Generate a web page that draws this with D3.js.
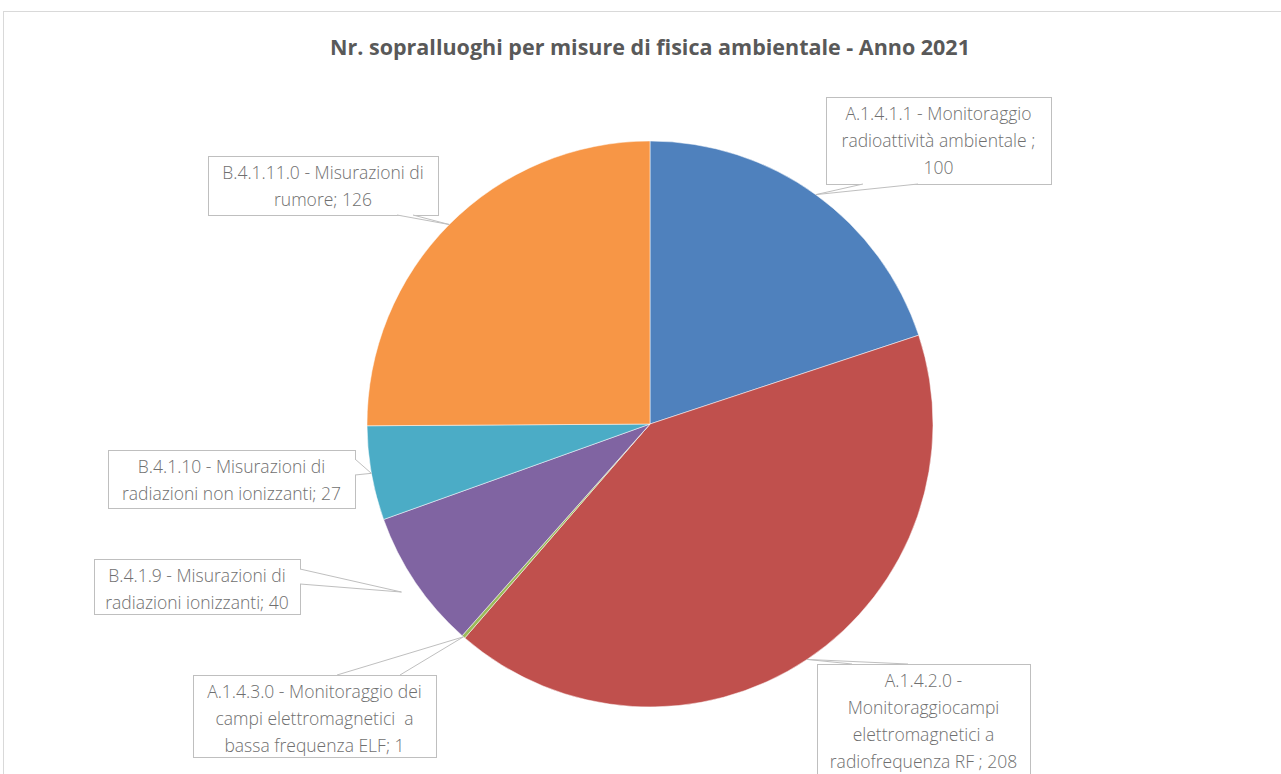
<!DOCTYPE html>
<html lang="it">
<head>
  <meta charset="UTF-8">
  <title>Nr. sopralluoghi per misure di fisica ambientale - Anno 2021</title>
  <script src="https://d3js.org/d3.v7.min.js"></script>
</head>
<style>
  body {
    margin: 0;
    background: #fff;
  }
  svg {
    display: block;
  }
  .title {
    font-family: "Open Sans", sans-serif;
    font-weight: bold;
    font-size: 21.5px;
    fill: #595959;
  }
  .lbl text {
    font-family: "Open Sans", sans-serif;
    font-weight: 300;
    font-size: 17.5px;
    fill: #6f6f6f;
    white-space: pre;
  }
</style>
<body>
<div id="chart"></div>
<script>
  // data
  var title = 'Nr. sopralluoghi per misure di fisica ambientale - Anno 2021';
  var categories = [
    'A.1.4.1.1 - Monitoraggio\nradioattività ambientale ;\n',
    'A.1.4.2.0 -\nMonitoraggiocampi\nelettromagnetici a\nradiofrequenza RF ; ',
    'A.1.4.3.0 - Monitoraggio dei\ncampi elettromagnetici  a\nbassa frequenza ELF; ',
    'B.4.1.9 - Misurazioni di\nradiazioni ionizzanti; ',
    'B.4.1.10 - Misurazioni di\nradiazioni non ionizzanti; ',
    'B.4.1.11.0 - Misurazioni di\nrumore; '
  ];
  var values = [100, 208, 1, 40, 27, 126];
  var colors = ['#4F81BD', '#C0504D', '#9BBB59', '#8064A2', '#4BACC6', '#F79646'];

  // where the label boxes sit (layout only)
  var boxes = [
    {x: 826, y: 97,  w: 225, h: 87,  side: 'bottom', b: [863, 918], dr: 0},
    {x: 817, y: 664, w: 213, h: 118, side: 'top',    b: [852, 908], dr: 0},
    {x: 193, y: 675, w: 243, h: 82,  side: 'top',    b: [337, 400], dr: 0},
    {x: 94,  y: 559, w: 206, h: 55,  side: 'right',  b: [569, 584], dr: 17},
    {x: 108, y: 450, w: 247, h: 58,  side: 'right',  b: [459, 475], dr: 0},
    {x: 208, y: 156, w: 230, h: 59,  side: 'bottom', b: [397, 413], dr: 0}
  ];

  var W = 1281, H = 774;
  var cx = 650, cy = 424, R = 283;
  var lineH = 27;

  var svg = d3.select('#chart').append('svg')
    .attr('width', W)
    .attr('height', H);

  // chart area frame
  svg.append('rect')
    .attr('x', 3.5).attr('y', 11.5)
    .attr('width', W + 10).attr('height', H + 10)
    .attr('fill', 'none')
    .attr('stroke', '#d9d9d9');

  svg.append('text')
    .attr('class', 'title')
    .attr('x', cx).attr('y', 55)
    .attr('text-anchor', 'middle')
    .text(title);

  var pie = d3.pie().sort(null).value(function(d) { return d; });
  var arcs = pie(values);
  var arc = d3.arc().innerRadius(0).outerRadius(R);

  var g = svg.append('g').attr('transform', 'translate(' + cx + ',' + cy + ')');
  g.selectAll('path')
    .data(arcs)
    .enter()
    .append('path')
    .attr('d', arc)
    .attr('fill', function(d, i) { return colors[i]; })
    .attr('stroke', '#fff')
    .attr('stroke-width', 0.5);

  // callout labels
  var lbl = svg.selectAll('g.lbl')
    .data(arcs)
    .enter()
    .append('g')
    .attr('class', 'lbl');

  function tip(d, i) {
    var a = (d.startAngle + d.endAngle) / 2;
    var r = R + boxes[i].dr;
    return [cx + r * Math.sin(a), cy - r * Math.cos(a)];
  }
  function basePts(bx) {
    if (bx.side === 'bottom') return [[bx.b[0], bx.y + bx.h], [bx.b[1], bx.y + bx.h]];
    if (bx.side === 'top') return [[bx.b[0], bx.y], [bx.b[1], bx.y]];
    if (bx.side === 'right') return [[bx.x + bx.w, bx.b[0]], [bx.x + bx.w, bx.b[1]]];
    return [[bx.x, bx.b[0]], [bx.x, bx.b[1]]];
  }

  lbl.each(function(d, i) {
    var bx = boxes[i];
    var sel = d3.select(this);
    var t = tip(d, i);
    var bp = basePts(bx);

    sel.append('rect')
      .attr('x', bx.x + 0.5).attr('y', bx.y + 0.5)
      .attr('width', bx.w).attr('height', bx.h)
      .attr('fill', '#fff')
      .attr('stroke', '#bfbfbf');

    // wedge pointing to the slice
    sel.append('path')
      .attr('d', 'M' + bp[0] + 'L' + t + 'L' + bp[1] + 'Z')
      .attr('fill', '#fff')
      .attr('stroke', 'none');
    sel.append('path')
      .attr('d', 'M' + bp[0] + 'L' + t + 'L' + bp[1])
      .attr('fill', 'none')
      .attr('stroke', '#bfbfbf');

    var lines = (categories[i] + values[i]).split('\n');
    var top = bx.y + 16.5;
    var txt = sel.append('text')
      .attr('text-anchor', 'middle');
    lines.forEach(function(s, k) {
      txt.append('tspan')
        .attr('x', bx.x + bx.w / 2)
        .attr('y', top + k * lineH)
        .attr('dy', '0.35em')
        .text(s);
    });
  });
</script>
</body>
</html>
